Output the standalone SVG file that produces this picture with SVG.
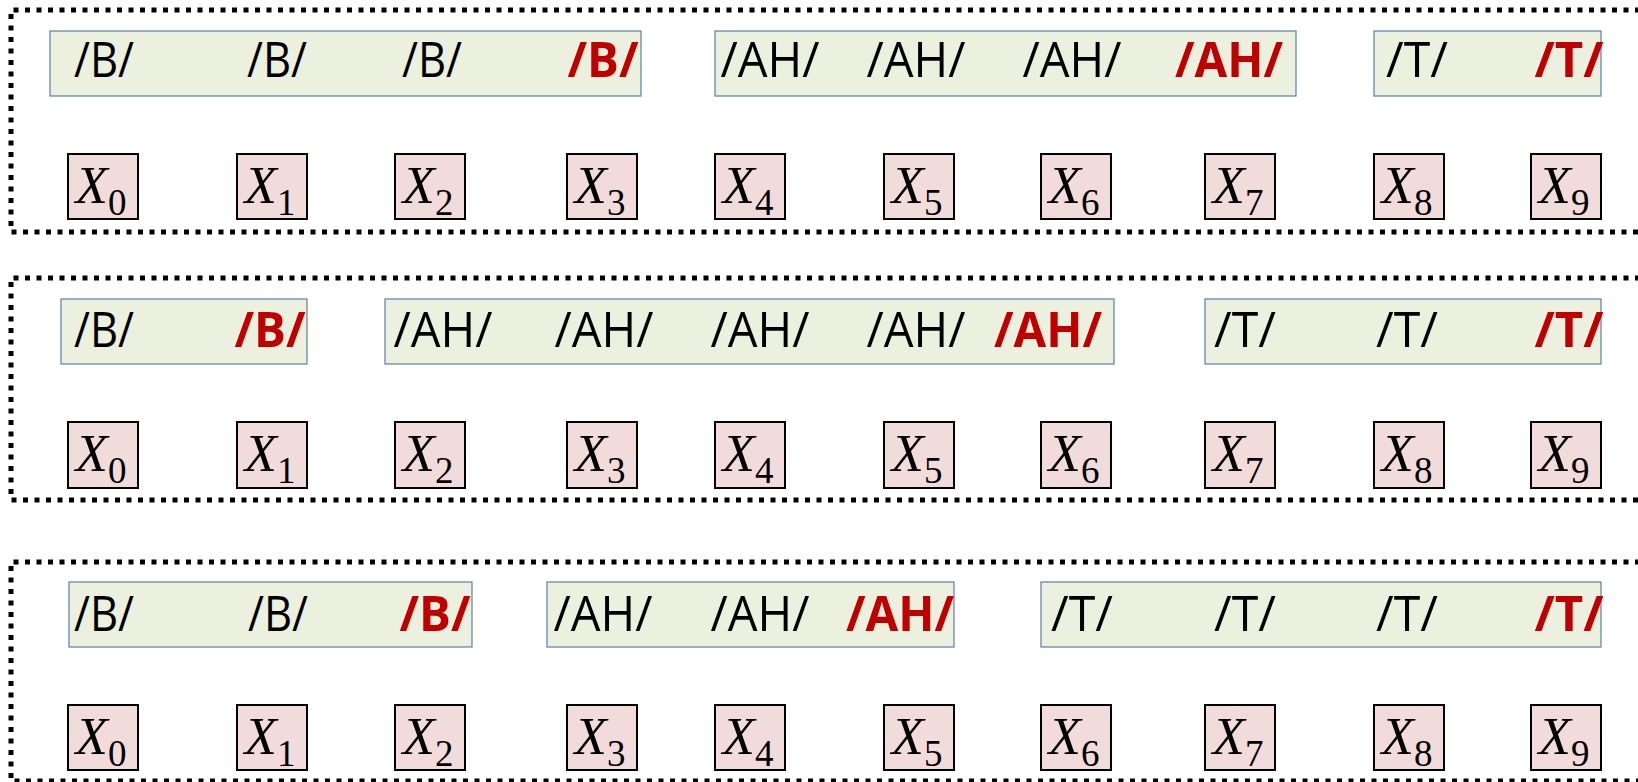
<svg xmlns="http://www.w3.org/2000/svg" width="1638" height="782" viewBox="0 0 1638 782">
<style>
.frame{fill:none;stroke:#000;stroke-width:5;stroke-dasharray:5 6.5}
.grp{fill:#ebf1de;stroke:#5b7fae;stroke-width:1.2}
.ph{font-family:"Open Sans","Liberation Sans",sans-serif;font-size:49px;fill:#000;text-anchor:middle}
.ph.r{fill:#c00000;font-weight:bold}
.xb{fill:#f2dcdb;stroke:#000;stroke-width:2}
.xl{font-family:"Liberation Serif","DejaVu Serif",serif;font-size:53px;font-style:italic;fill:#000;text-anchor:middle}
.xl .s{font-size:37px;font-style:normal}
</style>
<rect width="1638" height="782" fill="#fff"/>
<g id="frames">
<path class="frame" d="M1640 10 H11 V232 H1640"/>
<path class="frame" d="M1640 278 H11 V500 H1640"/>
<path class="frame" d="M1640 562 H11 V781 H1640"/>
</g>
<g id="connectors"/>
<!-- Panel 1 -->
<g id="p1-groups">
<rect class="grp" x="50" y="31" width="591" height="65"/>
<rect class="grp" x="715" y="31" width="581" height="65"/>
<rect class="grp" x="1374" y="31" width="227" height="65"/>
<text class="ph" x="104" y="77" textLength="60" lengthAdjust="spacingAndGlyphs">/B/</text>
<text class="ph" x="277" y="77" textLength="60" lengthAdjust="spacingAndGlyphs">/B/</text>
<text class="ph" x="432" y="77" textLength="60" lengthAdjust="spacingAndGlyphs">/B/</text>
<text class="ph r" x="603" y="77" textLength="71" lengthAdjust="spacingAndGlyphs">/B/</text>
<text class="ph" x="770" y="77" textLength="99" lengthAdjust="spacingAndGlyphs">/AH/</text>
<text class="ph" x="916" y="77" textLength="99" lengthAdjust="spacingAndGlyphs">/AH/</text>
<text class="ph" x="1072" y="77" textLength="99" lengthAdjust="spacingAndGlyphs">/AH/</text>
<text class="ph r" x="1229" y="77" textLength="108" lengthAdjust="spacingAndGlyphs">/AH/</text>
<text class="ph" x="1417" y="77" textLength="62" lengthAdjust="spacingAndGlyphs">/T/</text>
<text class="ph r" x="1569" y="77" textLength="69" lengthAdjust="spacingAndGlyphs">/T/</text>
</g>
<g id="p1-x0"><rect class="xb" x="68" y="154" width="70" height="65"/><text class="xl" x="101" y="203">X<tspan class="s" dy="12">0</tspan></text></g>
<g id="p1-x1"><rect class="xb" x="237" y="154" width="70" height="65"/><text class="xl" x="270" y="203">X<tspan class="s" dy="12">1</tspan></text></g>
<g id="p1-x2"><rect class="xb" x="395" y="154" width="70" height="65"/><text class="xl" x="428" y="203">X<tspan class="s" dy="12">2</tspan></text></g>
<g id="p1-x3"><rect class="xb" x="567" y="154" width="70" height="65"/><text class="xl" x="600" y="203">X<tspan class="s" dy="12">3</tspan></text></g>
<g id="p1-x4"><rect class="xb" x="715" y="154" width="70" height="65"/><text class="xl" x="748" y="203">X<tspan class="s" dy="12">4</tspan></text></g>
<g id="p1-x5"><rect class="xb" x="884" y="154" width="70" height="65"/><text class="xl" x="917" y="203">X<tspan class="s" dy="12">5</tspan></text></g>
<g id="p1-x6"><rect class="xb" x="1041" y="154" width="70" height="65"/><text class="xl" x="1074" y="203">X<tspan class="s" dy="12">6</tspan></text></g>
<g id="p1-x7"><rect class="xb" x="1205" y="154" width="70" height="65"/><text class="xl" x="1238" y="203">X<tspan class="s" dy="12">7</tspan></text></g>
<g id="p1-x8"><rect class="xb" x="1374" y="154" width="70" height="65"/><text class="xl" x="1407" y="203">X<tspan class="s" dy="12">8</tspan></text></g>
<g id="p1-x9"><rect class="xb" x="1531" y="154" width="70" height="65"/><text class="xl" x="1564" y="203">X<tspan class="s" dy="12">9</tspan></text></g>
<!-- Panel 2 -->
<g id="p2-groups">
<rect class="grp" x="61" y="299" width="246" height="65"/>
<rect class="grp" x="385" y="299" width="729" height="65"/>
<rect class="grp" x="1205" y="299" width="396" height="65"/>
<text class="ph" x="104" y="347" textLength="60" lengthAdjust="spacingAndGlyphs">/B/</text>
<text class="ph r" x="270" y="347" textLength="71" lengthAdjust="spacingAndGlyphs">/B/</text>
<text class="ph" x="443" y="347" textLength="99" lengthAdjust="spacingAndGlyphs">/AH/</text>
<text class="ph" x="604" y="347" textLength="99" lengthAdjust="spacingAndGlyphs">/AH/</text>
<text class="ph" x="760" y="347" textLength="99" lengthAdjust="spacingAndGlyphs">/AH/</text>
<text class="ph" x="916" y="347" textLength="99" lengthAdjust="spacingAndGlyphs">/AH/</text>
<text class="ph r" x="1048" y="347" textLength="108" lengthAdjust="spacingAndGlyphs">/AH/</text>
<text class="ph" x="1245" y="347" textLength="62" lengthAdjust="spacingAndGlyphs">/T/</text>
<text class="ph" x="1407" y="347" textLength="62" lengthAdjust="spacingAndGlyphs">/T/</text>
<text class="ph r" x="1569" y="347" textLength="69" lengthAdjust="spacingAndGlyphs">/T/</text>
</g>
<g id="p2-x0"><rect class="xb" x="68" y="422" width="70" height="66"/><text class="xl" x="101" y="471">X<tspan class="s" dy="12">0</tspan></text></g>
<g id="p2-x1"><rect class="xb" x="237" y="422" width="70" height="66"/><text class="xl" x="270" y="471">X<tspan class="s" dy="12">1</tspan></text></g>
<g id="p2-x2"><rect class="xb" x="395" y="422" width="70" height="66"/><text class="xl" x="428" y="471">X<tspan class="s" dy="12">2</tspan></text></g>
<g id="p2-x3"><rect class="xb" x="567" y="422" width="70" height="66"/><text class="xl" x="600" y="471">X<tspan class="s" dy="12">3</tspan></text></g>
<g id="p2-x4"><rect class="xb" x="715" y="422" width="70" height="66"/><text class="xl" x="748" y="471">X<tspan class="s" dy="12">4</tspan></text></g>
<g id="p2-x5"><rect class="xb" x="884" y="422" width="70" height="66"/><text class="xl" x="917" y="471">X<tspan class="s" dy="12">5</tspan></text></g>
<g id="p2-x6"><rect class="xb" x="1041" y="422" width="70" height="66"/><text class="xl" x="1074" y="471">X<tspan class="s" dy="12">6</tspan></text></g>
<g id="p2-x7"><rect class="xb" x="1205" y="422" width="70" height="66"/><text class="xl" x="1238" y="471">X<tspan class="s" dy="12">7</tspan></text></g>
<g id="p2-x8"><rect class="xb" x="1374" y="422" width="70" height="66"/><text class="xl" x="1407" y="471">X<tspan class="s" dy="12">8</tspan></text></g>
<g id="p2-x9"><rect class="xb" x="1531" y="422" width="70" height="66"/><text class="xl" x="1564" y="471">X<tspan class="s" dy="12">9</tspan></text></g>
<!-- Panel 3 -->
<g id="p3-groups">
<rect class="grp" x="69" y="582" width="403" height="65"/>
<rect class="grp" x="547" y="582" width="407" height="65"/>
<rect class="grp" x="1041" y="582" width="560" height="65"/>
<text class="ph" x="104" y="631" textLength="60" lengthAdjust="spacingAndGlyphs">/B/</text>
<text class="ph" x="278" y="631" textLength="60" lengthAdjust="spacingAndGlyphs">/B/</text>
<text class="ph r" x="435" y="631" textLength="71" lengthAdjust="spacingAndGlyphs">/B/</text>
<text class="ph" x="603" y="631" textLength="99" lengthAdjust="spacingAndGlyphs">/AH/</text>
<text class="ph" x="760" y="631" textLength="99" lengthAdjust="spacingAndGlyphs">/AH/</text>
<text class="ph r" x="900" y="631" textLength="108" lengthAdjust="spacingAndGlyphs">/AH/</text>
<text class="ph" x="1082" y="631" textLength="62" lengthAdjust="spacingAndGlyphs">/T/</text>
<text class="ph" x="1245" y="631" textLength="62" lengthAdjust="spacingAndGlyphs">/T/</text>
<text class="ph" x="1407" y="631" textLength="62" lengthAdjust="spacingAndGlyphs">/T/</text>
<text class="ph r" x="1569" y="631" textLength="69" lengthAdjust="spacingAndGlyphs">/T/</text>
</g>
<g id="p3-x0"><rect class="xb" x="68" y="705" width="70" height="65"/><text class="xl" x="101" y="754">X<tspan class="s" dy="12">0</tspan></text></g>
<g id="p3-x1"><rect class="xb" x="237" y="705" width="70" height="65"/><text class="xl" x="270" y="754">X<tspan class="s" dy="12">1</tspan></text></g>
<g id="p3-x2"><rect class="xb" x="395" y="705" width="70" height="65"/><text class="xl" x="428" y="754">X<tspan class="s" dy="12">2</tspan></text></g>
<g id="p3-x3"><rect class="xb" x="567" y="705" width="70" height="65"/><text class="xl" x="600" y="754">X<tspan class="s" dy="12">3</tspan></text></g>
<g id="p3-x4"><rect class="xb" x="715" y="705" width="70" height="65"/><text class="xl" x="748" y="754">X<tspan class="s" dy="12">4</tspan></text></g>
<g id="p3-x5"><rect class="xb" x="884" y="705" width="70" height="65"/><text class="xl" x="917" y="754">X<tspan class="s" dy="12">5</tspan></text></g>
<g id="p3-x6"><rect class="xb" x="1041" y="705" width="70" height="65"/><text class="xl" x="1074" y="754">X<tspan class="s" dy="12">6</tspan></text></g>
<g id="p3-x7"><rect class="xb" x="1205" y="705" width="70" height="65"/><text class="xl" x="1238" y="754">X<tspan class="s" dy="12">7</tspan></text></g>
<g id="p3-x8"><rect class="xb" x="1374" y="705" width="70" height="65"/><text class="xl" x="1407" y="754">X<tspan class="s" dy="12">8</tspan></text></g>
<g id="p3-x9"><rect class="xb" x="1531" y="705" width="70" height="65"/><text class="xl" x="1564" y="754">X<tspan class="s" dy="12">9</tspan></text></g>
</svg>
